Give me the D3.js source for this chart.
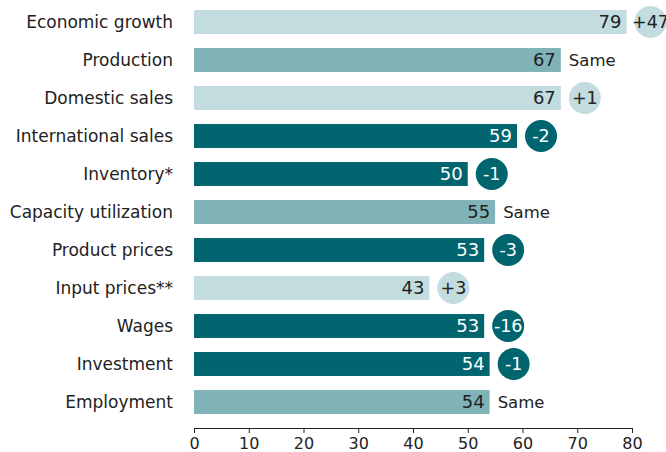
<!DOCTYPE html>
<html>
<head>
<meta charset="utf-8">
<script src="https://cdn.jsdelivr.net/npm/d3@7"></script>
<style>
  html, body { margin: 0; padding: 0; background: #fff; }
  svg { display: block; font-family: "DejaVu Sans", Verdana, sans-serif; }
</style>
</head>
<body>
<svg id="chart" width="666" height="452"></svg>
<script>
// Survey indicators, current index and change from the previous reading
const categories = [
  "Economic growth", "Production", "Domestic sales", "International sales",
  "Inventory*", "Capacity utilization", "Product prices", "Input prices**",
  "Wages", "Investment", "Employment"
];
const values = [79, 67, 67, 59, 50, 55, 53, 43, 53, 54, 54];
const changes = [47, 0, 1, -2, -1, 0, -3, 3, -16, -1, 0];
const xTicks = [0, 10, 20, 30, 40, 50, 60, 70, 80];

const colors = { up: "#c2dcdf", same: "#80b3b8", down: "#00656e" };
const kind = c => c > 0 ? "up" : c < 0 ? "down" : "same";
const changeText = c => c > 0 ? "+" + c : c < 0 ? "-" + Math.abs(c) : "Same";

const rows = categories.map((name, i) => ({ name, value: values[i], change: changes[i] }));

const svg = d3.select("#chart");
const margin = { left: 194, right: 34, top: 3 };
const width = 666;

const x = d3.scaleLinear().domain([0, 80]).range([margin.left, width - margin.right]);
const y = d3.scaleBand().domain(categories)
  .range([margin.top, margin.top + 38 * categories.length]).paddingInner(0.37).paddingOuter(0.185);

const g = svg.append("g");

// category labels
g.selectAll("text.cat").data(rows).join("text")
  .attr("class", "cat")
  .attr("x", margin.left - 21)
  .attr("y", d => y(d.name) + y.bandwidth() / 2)
  .attr("dy", "0.35em")
  .attr("text-anchor", "end")
  .attr("font-size", 17)
  .attr("fill", "#222")
  .text(d => d.name);

// bars
g.selectAll("rect.bar").data(rows).join("rect")
  .attr("class", "bar")
  .attr("x", x(0))
  .attr("y", d => y(d.name))
  .attr("width", d => x(d.value) - x(0))
  .attr("height", y.bandwidth())
  .attr("fill", d => colors[kind(d.change)]);

// value labels inside the bars
g.selectAll("text.val").data(rows).join("text")
  .attr("class", "val")
  .attr("x", d => x(d.value) - 5)
  .attr("y", d => y(d.name) + y.bandwidth() / 2)
  .attr("dy", "0.36em")
  .attr("text-anchor", "end")
  .attr("font-size", 18)
  .attr("fill", d => kind(d.change) === "down" ? "#fff" : "#222")
  .text(d => d.value);

// change markers: circle badge for a change, plain text for "Same"
const r = 16;
const marker = g.selectAll("g.chg").data(rows).join("g")
  .attr("class", "chg")
  .attr("transform", d => `translate(${x(d.value)},${y(d.name) + y.bandwidth() / 2})`);

marker.filter(d => d.change !== 0).append("circle")
  .attr("cx", 8 + r)
  .attr("r", r)
  .attr("fill", d => colors[kind(d.change)]);

marker.append("text")
  .attr("x", d => d.change !== 0 ? 8 + r : 8)
  .attr("dy", "0.36em")
  .attr("text-anchor", d => d.change !== 0 ? "middle" : "start")
  .attr("font-size", d => d.change !== 0 ? 17.5 : 16.5)
  .attr("fill", d => kind(d.change) === "down" ? "#fff" : "#222")
  .text(d => changeText(d.change));

// x axis
const axisY = 428;
const axis = svg.append("g")
  .attr("transform", `translate(0,${axisY})`)
  .call(d3.axisBottom(x).tickValues(xTicks).tickSize(5).tickSizeOuter(0).tickPadding(5));
axis.select(".domain").attr("stroke", "#222");
axis.selectAll(".tick line").attr("stroke", "#222");
axis.selectAll(".tick text")
  .attr("font-size", 16)
  .attr("font-family", "\"DejaVu Sans\", Verdana, sans-serif")
  .attr("fill", "#222")
  .attr("dy", "0.71em");
</script>
</body>
</html>
